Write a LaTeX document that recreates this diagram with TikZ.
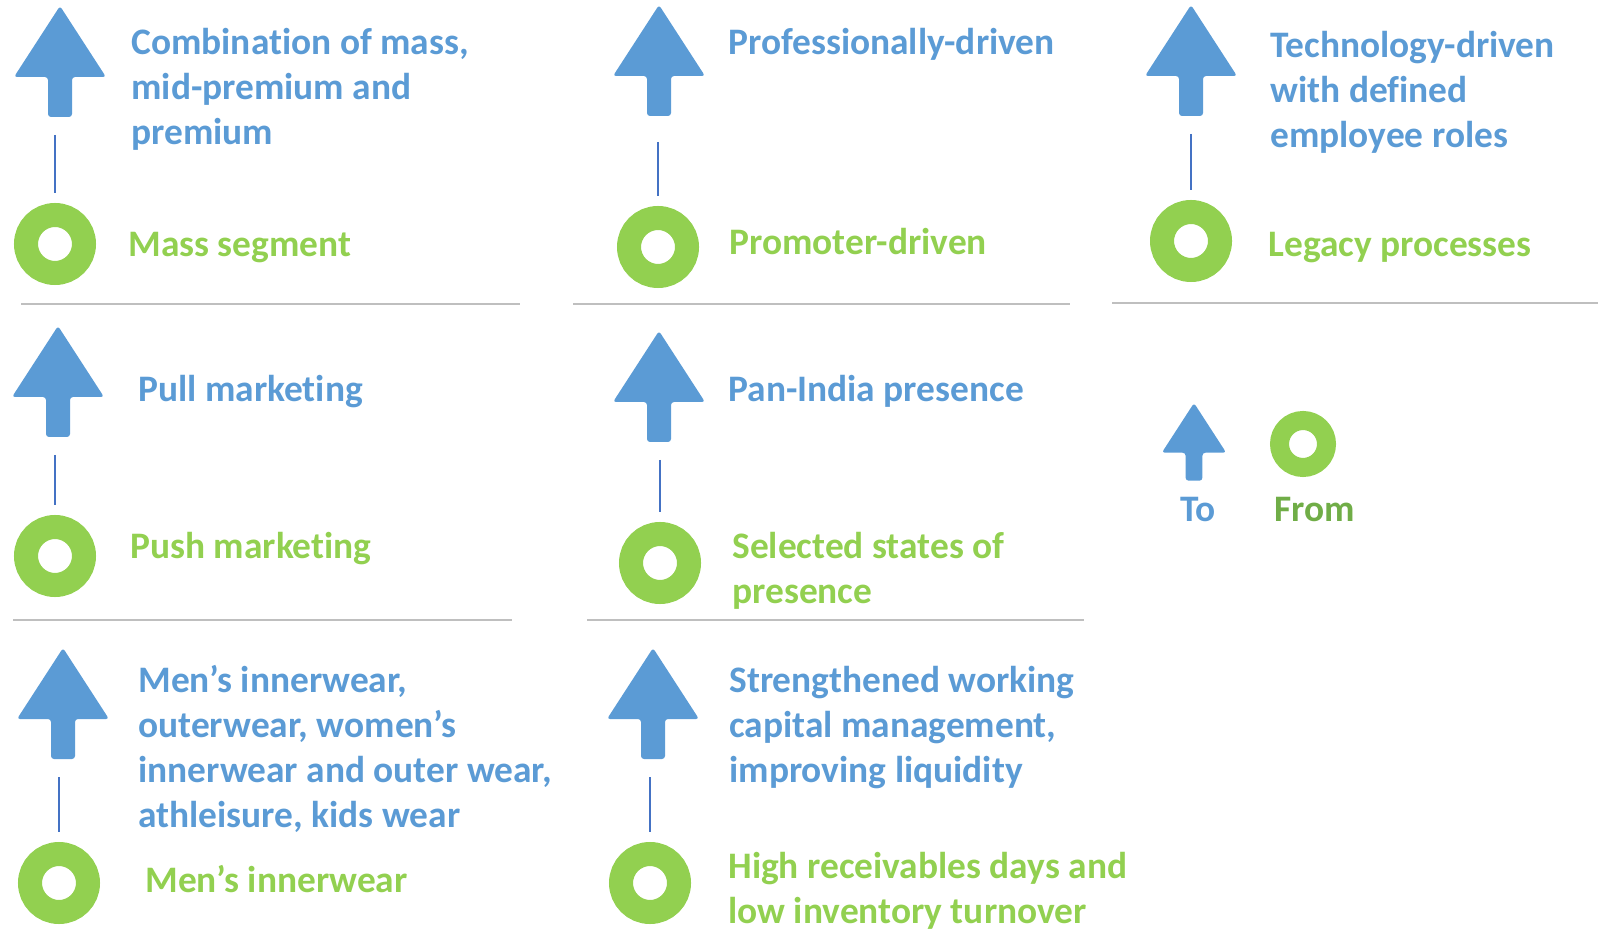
\documentclass[tikz,border=0pt]{standalone}
\usepackage{fontspec}
\setmainfont{Carlito}[Ligatures={NoCommon,NoContextual,NoRequired}, Contextuals=NoAlternate]
\usepackage{xcolor}
\usepackage{tikz}
\usetikzlibrary{positioning}

\definecolor{tocol}{HTML}{5B9BD5}
\definecolor{fromcol}{HTML}{92D050}
\definecolor{fromdark}{HTML}{70AD47}
\definecolor{connblue}{HTML}{4472C4}
\definecolor{sepgray}{HTML}{BFBFBF}

% up arrow: [scale]{name of bottom point}{x of tip}{y of tip}
\newcommand{\toarrow}[4][1]{%
	\begin{scope}[shift={(#3,#4)}, scale=#1]
		\fill[tocol, rounded corners=1.5pt] (0,0) -- (46,71) -- (12,71) -- (12,111) -- (-12,111) -- (-12,71) -- (-46,71) -- cycle;
		\coordinate (#2) at (0,111);
	\end{scope}}

\begin{document}
\begin{tikzpicture}[x=0.5pt, y=-0.5pt,
		ring/.style = {circle, draw=fromcol, fill=white, line width=12pt, minimum size=29pt, inner sep=0pt},
		smallring/.style = {ring, line width=9.5pt, minimum size=23.5pt},
		tolbl/.style = {anchor=base west, align=left, inner sep=0pt, text=tocol, font=\bfseries\fontsize{18.7}{22.5}\selectfont},
		fromlbl/.style = {tolbl, text=fromcol},
		conn/.style = {draw=connblue, line width=0.75pt, shorten <=9pt, shorten >=5pt},
		sep/.style = {draw=sepgray, line width=1pt}
		]
		\useasboundingbox (0,0) rectangle (1598,929);
		
		%column 1 (labels sit on the baseline of their last line)
		\toarrow{a1}{60}{6}
		\node (r1) [ring] at (55,244) {};
		\node (t1) [tolbl] at (131,145) {Combination of mass,\\mid-premium and\\premium};
		\node (f1) [fromlbl] at (128,257) {Mass segment};
		
		\toarrow{a2}{58}{326}
		\node (r2) [ring] at (55,556) {};
		\node (t2) [tolbl] at (138,402) {Pull marketing};
		\node (f2) [fromlbl] at (130,559) {Push marketing};
		
		\toarrow{a3}{63}{648}
		\node (r3) [ring] at (59,883) {};
		\node (t3) [tolbl] at (138,827) {Men’s innerwear,\\outerwear, women’s\\innerwear and outer wear,\\athleisure, kids wear};
		\node (f3) [fromlbl] at (145,892) {Men’s innerwear};
		
		%column 2
		\toarrow{a4}{659}{5}
		\node (r4) [ring] at (658,247) {};
		\node (t4) [tolbl] at (728,55) {Professionally-driven};
		\node (f4) [fromlbl] at (729,255) {Promoter-driven};
		
		\toarrow{a5}{659}{331}
		\node (r5) [ring] at (660,563) {};
		\node (t5) [tolbl] at (728,402) {Pan-India presence};
		\node (f5) [fromlbl] at (732,603) {Selected states of\\presence};
		
		\toarrow{a6}{653}{648}
		\node (r6) [ring] at (650,883) {};
		\node (t6) [tolbl] at (729,782) {Strengthened working\\capital management,\\improving liquidity};
		\node (f6) [fromlbl] at (728,923) {High receivables days and\\low inventory turnover};
		
		%column 3
		\toarrow{a7}{1191}{5}
		\node (r7) [ring] at (1191,241) {};
		\node (t7) [tolbl] at (1270,148) {Technology-driven\\with defined\\employee roles};
		\node (f7) [fromlbl] at (1268,257) {Legacy processes};
		
		%legend
		\toarrow[0.7]{ato}{1194}{403}
		\node (rfrom) [smallring] at (1303,444) {};
		\node (lto) [tolbl] at (1180,522) {To};
		\node (lfrom) [tolbl, text=fromdark] at (1274,522) {From};
		
		%links from-to
		\draw[conn] (a1 -| r1) -- (r1.north);
		\draw[conn] (a2 -| r2) -- (r2.north);
		\draw[conn] (a3 -| r3) -- (r3.north);
		\draw[conn, shorten <=13pt] (a4 -| r4) -- (r4.north);
		\draw[conn] (a5 -| r5) -- (r5.north);
		\draw[conn] (a6 -| r6) -- (r6.north);
		\draw[conn] (a7 -| r7) -- (r7.north);
		
		%separators
		\draw[sep] (21,304) -- (520,304);
		\draw[sep] (573,304) -- (1070,304);
		\draw[sep] (1112,303) -- (1598,303);
		\draw[sep] (13,620) -- (512,620);
		\draw[sep] (587,620) -- (1084,620);
		
\end{tikzpicture}
\end{document}
